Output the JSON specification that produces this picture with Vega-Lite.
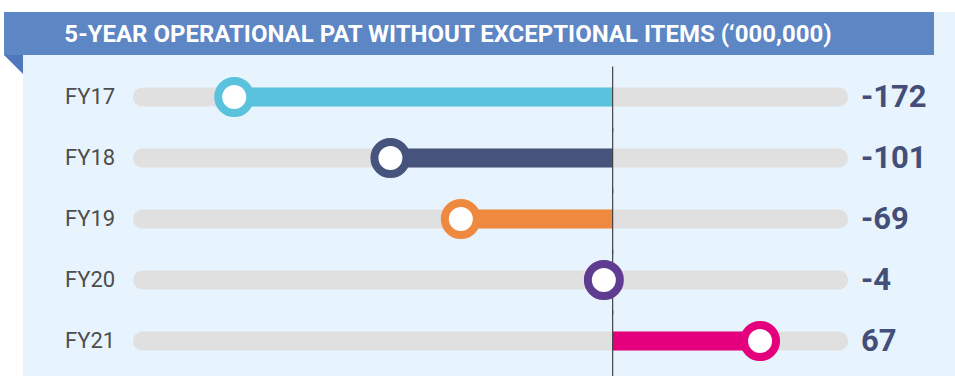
{
  "$schema": "https://vega.github.io/schema/vega-lite/v6.json",
  "padding": {"left": 4, "top": 12, "right": 0, "bottom": 0},
  "background": "white",
  "config": {"view": {"stroke": null}, "concat": {"spacing": 0}},
  "spacing": 0,
  "vconcat": [
    {
      "spacing": 0,
      "hconcat": [
        {
          "width": 930,
          "height": 43,
          "view": {"fill": "#5d86c5", "stroke": null},
          "data": {"values": [{}]},
          "mark": {"type": "text", "text": "5-YEAR OPERATIONAL PAT WITHOUT EXCEPTIONAL ITEMS (‘000,000)", "font": "Roboto", "fontWeight": "bold", "fontSize": 24, "color": "white", "align": "center", "baseline": "middle", "dx": -21, "dy": 1},
          "encoding": {}
        },
        {
          "width": 21,
          "height": 43,
          "view": {"fill": "#e8f4fd", "stroke": null},
          "data": {"values": [{}]},
          "mark": {"type": "point", "opacity": 0},
          "encoding": {}
        }
      ]
    },
    {
      "spacing": 0,
      "hconcat": [
        {
          "width": 19,
          "height": 19,
          "view": {"stroke": null},
          "data": {"values": [{}]},
          "mark": {"type": "point", "shape": "M-1,-1L1,-1L1,1Z", "size": 361, "filled": true, "color": "#5079bd", "opacity": 1},
          "encoding": {}
        },
        {
          "width": 932,
          "height": 321,
          "view": {"fill": "#e8f4fd", "stroke": null},
          "data": {"values": [
            {"year": "FY17", "value": -172},
            {"year": "FY18", "value": -101},
            {"year": "FY19", "value": -69},
            {"year": "FY20", "value": -4},
            {"year": "FY21", "value": 67}
          ]},
          "layer": [
            {
              "mark": {"type": "rule", "strokeWidth": 19, "strokeCap": "round", "color": "#e0e0e0"},
              "encoding": {
                "x": {"datum": -213.7, "type": "quantitative", "scale": {"domain": [-268, 155.6], "nice": false, "zero": false}, "axis": null},
                "x2": {"datum": 102.7},
                "y": {"field": "year", "type": "ordinal", "sort": null, "scale": {"range": [11.5, 316.5], "paddingInner": 0, "paddingOuter": 0}, "axis": null}
              }
            },
            {
              "mark": {"type": "rule", "strokeWidth": 19, "strokeCap": "butt"},
              "encoding": {
                "x": {"field": "value", "type": "quantitative", "axis": null},
                "x2": {"datum": 0},
                "y": {"field": "year", "type": "ordinal", "axis": null},
                "color": {"field": "year", "type": "nominal", "legend": null, "scale": {"domain": ["FY17", "FY18", "FY19", "FY20", "FY21"], "range": ["#5bc2dd", "#46537d", "#f08940", "#5f3b91", "#e4007c"]}}
              }
            },
            {
              "mark": {"type": "rule", "strokeWidth": 1.2, "color": "#444444"},
              "encoding": {
                "x": {"datum": 0, "type": "quantitative", "axis": null},
                "y": {"field": "year", "type": "ordinal", "bandPosition": 0, "axis": null},
                "y2": {"field": "year", "bandPosition": 1.075}
              }
            },
            {
              "mark": {"type": "point", "filled": true, "fill": "white", "strokeWidth": 8, "size": 1024, "opacity": 1},
              "encoding": {
                "x": {"field": "value", "type": "quantitative", "axis": null},
                "y": {"field": "year", "type": "ordinal", "axis": null},
                "stroke": {"field": "year", "type": "nominal", "legend": null, "scale": {"domain": ["FY17", "FY18", "FY19", "FY20", "FY21"], "range": ["#5bc2dd", "#46537d", "#f08940", "#5f3b91", "#e4007c"]}}
              }
            },
            {
              "mark": {"type": "text", "align": "left", "baseline": "middle", "font": "Roboto", "fontSize": 22, "color": "#4d4d4d"},
              "encoding": {
                "x": {"datum": -248.9, "type": "quantitative", "axis": null},
                "y": {"field": "year", "type": "ordinal", "axis": null},
                "text": {"field": "year", "type": "nominal"}
              }
            },
            {
              "mark": {"type": "text", "align": "left", "baseline": "middle", "font": "Roboto", "fontWeight": "bold", "fontSize": 31, "color": "#434f78", "dy": 1},
              "encoding": {
                "x": {"datum": 112.9, "type": "quantitative", "axis": null},
                "y": {"field": "year", "type": "ordinal", "axis": null},
                "text": {"field": "value", "type": "nominal"}
              }
            }
          ]
        }
      ]
    }
  ]
}
